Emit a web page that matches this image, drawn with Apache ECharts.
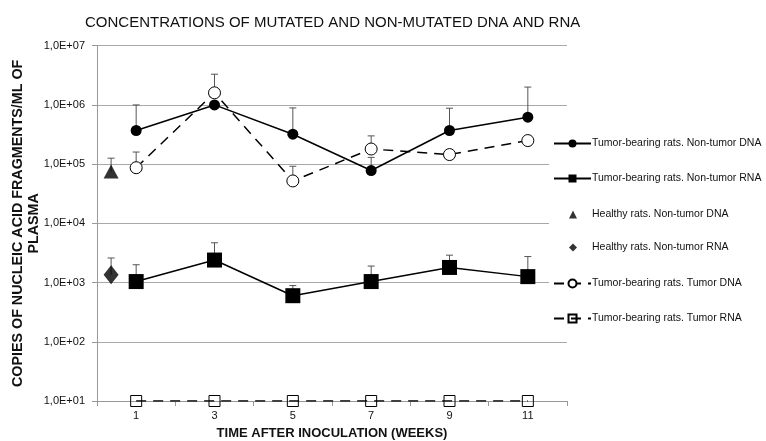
<!DOCTYPE html>
<html>
<head>
<meta charset="utf-8">
<script src="https://cdn.jsdelivr.net/npm/echarts@6/dist/echarts.min.js"></script>
<style>
html,body{margin:0;padding:0;background:#fff;}
#chart{width:766px;height:441px;}
</style>
</head>
<body>
<div id="chart"></div>
<script>
const weeks = [1, 3, 5, 7, 9, 11];
const weekLabels = ['1', '3', '5', '7', '9', '11'];
const yTickLabels = ['1,0E+01', '1,0E+02', '1,0E+03', '1,0E+04', '1,0E+05', '1,0E+06', '1,0E+07'];

const nonTumorDNA = [3.7e5, 1.0e6, 3.2e5, 7.8e4, 3.7e5, 6.2e5];
const nonTumorDNAErr = [1.0e6, null, 8.9e5, 1.3e5, 8.8e5, 2.0e6];
const nonTumorRNA = [1.04e3, 2.4e3, 6.0e2, 1.04e3, 1.8e3, 1.26e3];
const nonTumorRNAErr = [2.0e3, 4.7e3, 8.9e2, 1.9e3, 2.9e3, 2.75e3];
const tumorDNA = [8.7e4, 1.6e6, 5.2e4, 1.8e5, 1.45e5, 2.5e5];
const tumorDNAErr = [1.6e5, 3.3e6, 9.2e4, 3.0e5, null, null];
const tumorRNA = [10, 10, 10, 10, 10, 10];

const healthyX = 0.36;
const healthyDNA = 7.5e4;
const healthyDNAErr = 1.26e5;
const healthyRNA = 1.35e3;
const healthyRNAErr = 2.6e3;

const names = [
  'Tumor-bearing rats. Non-tumor DNA',
  'Tumor-bearing rats. Non-tumor RNA',
  'Healthy rats. Non-tumor DNA',
  'Healthy rats. Non-tumor RNA',
  'Tumor-bearing rats. Tumor DNA',
  'Tumor-bearing rats. Tumor RNA'
];

function pairs(xs, ys) { return xs.map((x, i) => [x, ys[i]]); }
function errs(xs, ys, tops) {
  const out = [];
  xs.forEach((x, i) => { if (tops[i] != null) out.push([x, ys[i], tops[i]]); });
  return out;
}
const errData = []
  .concat(errs(weeks, nonTumorDNA, nonTumorDNAErr))
  .concat(errs(weeks, nonTumorRNA, nonTumorRNAErr))
  .concat(errs(weeks, tumorDNA, tumorDNAErr))
  .concat([[healthyX, healthyDNA, healthyDNAErr], [healthyX, healthyRNA, healthyRNAErr]]);

const chart = echarts.init(document.getElementById('chart'));
const FONT = '"Liberation Sans", Arial, sans-serif';
const gridGray = '#a8a8a8';
const legText = { fontFamily: FONT, fontSize: 10.5, color: '#111', padding: [0, 0, 0, -4] };

chart.setOption({
  animation: false,
  backgroundColor: '#fff',
  textStyle: { fontFamily: FONT, color: '#111' },
  title: {
    text: 'CONCENTRATIONS OF MUTATED AND NON-MUTATED DNA AND RNA',
    left: 85, top: 15, padding: 0,
    textStyle: { fontFamily: FONT, fontSize: 15, fontWeight: 'normal', color: '#111' }
  },
  legend: [{
    orient: 'vertical', left: 549, top: 130,
    padding: [8, 0, 8, 4], backgroundColor: '#fff',
    itemWidth: 37, itemHeight: 10, itemGap: 24,
    textStyle: legText,
    data: [names[0], names[1]]
  }, {
    orient: 'vertical', left: 549, top: 201,
    padding: [8, 0, 8, 20], backgroundColor: '#fff',
    itemWidth: 8, itemHeight: 8, itemGap: 22,
    textStyle: { fontFamily: FONT, fontSize: 10.5, color: '#111', padding: [0, 0, 0, 10] },
    data: [names[2], names[3]]
  }, {
    orient: 'vertical', left: 549, top: 270,
    padding: [8, 0, 8, 4], backgroundColor: '#fff',
    itemWidth: 37, itemHeight: 10, itemGap: 24,
    textStyle: legText,
    data: [names[4], names[5]]
  }],
  grid: { left: 97, right: 199, top: 45.7, bottom: 40, outerBoundsMode: 'none', containLabel: false },
  xAxis: [{
    type: 'category',
    data: weekLabels,
    boundaryGap: true,
    axisLine: { lineStyle: { color: '#999' } },
    axisTick: { show: true, length: 5, lineStyle: { color: '#999' } },
    axisLabel: { fontSize: 11, color: '#111', margin: 9 },
    splitLine: { show: false },
    name: 'TIME AFTER INOCULATION (WEEKS)',
    nameLocation: 'middle',
    nameGap: 26,
    nameMoveOverlap: false,
    nameTextStyle: { fontFamily: FONT, fontSize: 13, fontWeight: 'bold', color: '#111' }
  }, {
    type: 'value', min: 0, max: 12, show: false
  }],
  yAxis: {
    type: 'log', logBase: 10, min: 10, max: 1e7,
    axisLine: { show: true, lineStyle: { color: '#999' } },
    axisTick: { show: true, length: 5, lineStyle: { color: '#999' } },
    splitLine: { show: true, lineStyle: { color: gridGray, width: 1 } },
    minorTick: { show: false },
    axisLabel: {
      fontSize: 11, color: '#111', margin: 12,
      formatter: function (v) {
        const e = Math.round(Math.log10(v));
        return yTickLabels[e - 1] || '';
      }
    },
    name: 'COPIES OF NUCLEIC ACID FRAGMENTS/ML OF\nPLASMA',
    nameLocation: 'middle',
    nameRotate: 90,
    nameGap: 55,
    nameMoveOverlap: false,
    nameTextStyle: { fontFamily: FONT, fontSize: 14.3, fontWeight: 'bold', color: '#111', lineHeight: 16 }
  },
  series: [
    {
      type: 'custom',
      name: 'errors',
      xAxisIndex: 1,
      z: 1,
      silent: true,
      data: errData,
      renderItem: function (params, api) {
        const p0 = api.coord([api.value(0), api.value(1)]);
        const p1 = api.coord([api.value(0), api.value(2)]);
        return {
          type: 'group',
          children: [
            { type: 'line', shape: { x1: p0[0], y1: p0[1], x2: p1[0], y2: p1[1] }, style: { stroke: '#555', lineWidth: 1 } },
            { type: 'line', shape: { x1: p1[0] - 3.5, y1: p1[1], x2: p1[0] + 3.5, y2: p1[1] }, style: { stroke: '#555', lineWidth: 1 } }
          ]
        };
      }
    },
    {
      name: names[0], type: 'line', xAxisIndex: 1, z: 5,
      data: pairs(weeks, nonTumorDNA),
      symbol: 'circle', symbolSize: 11,
      itemStyle: { color: '#000' },
      lineStyle: { color: '#000', width: 1.5 }
    },
    {
      name: names[1], type: 'line', xAxisIndex: 1, z: 5,
      data: pairs(weeks, nonTumorRNA),
      symbol: 'rect', symbolSize: 15,
      itemStyle: { color: '#000' },
      lineStyle: { color: '#000', width: 1.5 }
    },
    {
      name: names[2], type: 'scatter', xAxisIndex: 1, z: 5,
      data: [[healthyX, healthyDNA]],
      symbol: 'triangle', symbolSize: [15, 14],
      itemStyle: { color: '#000' }
    },
    {
      name: names[3], type: 'scatter', xAxisIndex: 1, z: 5,
      data: [[healthyX, healthyRNA]],
      symbol: 'diamond', symbolSize: [15, 19],
      itemStyle: { color: '#000' }
    },
    {
      name: names[4], type: 'line', xAxisIndex: 1, z: 4,
      data: pairs(weeks, tumorDNA),
      symbol: 'circle', symbolSize: 12, showAllSymbol: true,
      itemStyle: { color: '#fff', borderColor: '#000', borderWidth: 1 },
      lineStyle: { color: '#000', width: 1.5, type: [10, 7] }
    },
    {
      name: names[5], type: 'line', xAxisIndex: 1, z: 4,
      data: pairs(weeks, tumorRNA),
      symbol: 'rect', symbolSize: 11,
      itemStyle: { color: 'rgba(255,255,255,0)', borderColor: '#000', borderWidth: 1 },
      lineStyle: { color: '#000', width: 1.5, type: [10, 7] }
    }
  ]
});
</script>
</body>
</html>
